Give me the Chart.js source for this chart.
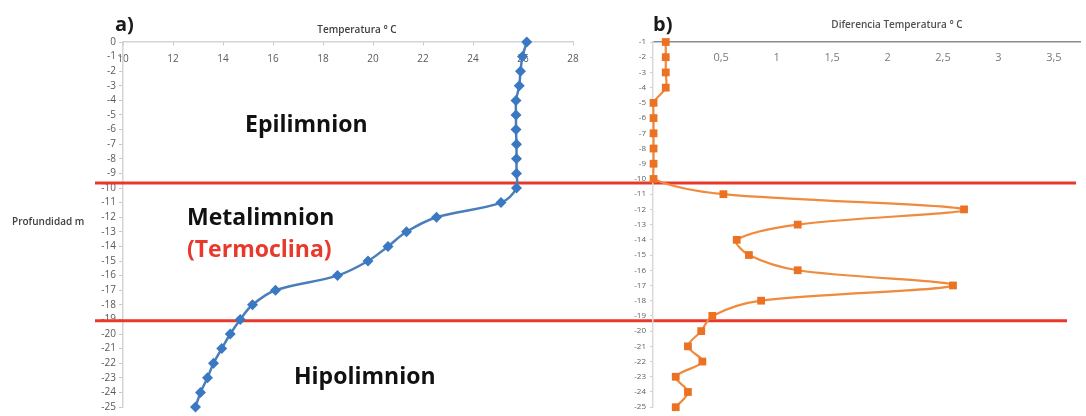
<!DOCTYPE html>
<html>
<head>
<meta charset="utf-8">
<script src="https://cdn.jsdelivr.net/npm/chart.js@4.4.0/dist/chart.umd.min.js"></script>
<style>
  html, body { margin: 0; padding: 0; background: #fff; }
  #wrap { position: relative; width: 1086px; height: 416px; overflow: hidden; }
  #wrap canvas { position: absolute; top: 0; }
  #left { left: 0; }
  #right { left: 600px; }
</style>
</head>
<body>
<div id="wrap">
  <canvas id="left" width="1086" height="416"></canvas>
  <canvas id="right" width="486" height="416"></canvas>
</div>
<script>
// panel a) temperature profile
const depths = [0, -1, -2, -3, -4, -5, -6, -7, -8, -9, -10, -11, -12, -13, -14, -15, -16, -17, -18, -19, -20, -21, -22, -23, -24, -25];
const temperature = [26.15, 25.98, 25.9, 25.85, 25.72, 25.72, 25.72, 25.74, 25.74, 25.74, 25.74, 25.12, 22.54, 21.34, 20.6, 19.8, 18.58, 16.1, 15.18, 14.69, 14.29, 13.95, 13.62, 13.38, 13.1, 12.9];
const tempTicks = [10, 12, 14, 16, 18, 20, 22, 24, 26, 28];
const depthTicksA = depths;

// panel b) temperature difference between consecutive depths
const diffDepths = [-1, -2, -3, -4, -5, -6, -7, -8, -9, -10, -11, -12, -13, -14, -15, -16, -17, -18, -19, -20, -21, -22, -23, -24, -25];
const tempDiff = [0, 0, 0, 0, -0.11, -0.11, -0.11, -0.11, -0.11, -0.11, 0.52, 2.69, 1.19, 0.64, 0.75, 1.19, 2.59, 0.86, 0.42, 0.32, 0.2, 0.33, 0.09, 0.2, 0.09];
const diffTicks = [0, 0.5, 1, 1.5, 2, 2.5, 3, 3.5];
const depthTicksB = diffDepths;

// layer limits (depth, m) and names
const layerLimits = [-9.65, -19.1];
const layerNames = ["Epilimnion", "Metalimnion", "(Termoclina)", "Hipolimnion"];

const FONT = "'Open Sans', 'DejaVu Sans', sans-serif";
const fmtComma = (v) => String(v).replace(".", ",");

function textAt(ctx, txt, x, y, font, color, align) {
  ctx.font = font;
  ctx.fillStyle = color;
  ctx.textAlign = align || "left";
  ctx.textBaseline = "middle";
  ctx.fillText(txt, x, y);
}

const leftDecor = {
  id: "leftDecor",
  beforeDatasetsDraw(chart) {
    const { ctx, scales: { y } } = chart;
    const ends = [1076, 1067];
    ctx.save();
    ctx.strokeStyle = "#e8382c";
    ctx.lineWidth = 3;
    layerLimits.forEach((d, i) => {
      const py = y.getPixelForValue(d);
      ctx.beginPath();
      ctx.moveTo(95, py);
      ctx.lineTo(ends[i], py);
      ctx.stroke();
    });
    ctx.restore();
  },
  afterDraw(chart) {
    const { ctx } = chart;
    ctx.save();
    textAt(ctx, "a)", 115, 25, "bold 20px " + FONT, "#1a1a1a");
    textAt(ctx, "Temperatura ° C", 357, 30, "600 10px " + FONT, "#404040", "center");
    textAt(ctx, "Profundidad m", 12, 222, "600 10px " + FONT, "#404040");
    const big = "bold 23px " + FONT;
    textAt(ctx, layerNames[0], 245, 125, big, "#111");
    textAt(ctx, layerNames[1], 187, 218, big, "#111");
    textAt(ctx, layerNames[2], 187, 250, big, "#e8392b");
    textAt(ctx, layerNames[3], 294, 377, big, "#111");
    ctx.restore();
  }
};

const rightDecor = {
  id: "rightDecor",
  afterDraw(chart) {
    const { ctx } = chart;
    ctx.save();
    textAt(ctx, "b)", 53, 25, "bold 20px " + FONT, "#1a1a1a");
    textAt(ctx, "Diferencia Temperatura ° C", 297, 25, "600 10px " + FONT, "#505050", "center");
    ctx.restore();
  }
};

new Chart(document.getElementById("left"), {
  type: "scatter",
  data: {
    datasets: [{
      data: depths.map((d, i) => ({ x: temperature[i], y: d })),
      showLine: true,
      borderColor: "#4a7ebb",
      backgroundColor: "#3b78c2",
      borderWidth: 2.5,
      tension: 0.33,
      pointStyle: "rectRot",
      pointRadius: 5.5,
      pointBorderWidth: 0,
      clip: false
    }]
  },
  options: {
    responsive: false,
    animation: false,
    devicePixelRatio: 1,
    layout: { padding: { top: 42, bottom: 4, left: 0, right: 513 } },
    plugins: { legend: { display: false }, tooltip: { enabled: false } },
    scales: {
      x: {
        type: "linear",
        position: { y: 0 },
        min: 10,
        max: 28,
        afterFit: (s) => { s.height = 0; },
        afterBuildTicks: (s) => { s.ticks = tempTicks.map((v) => ({ value: v })); },
        grid: { drawOnChartArea: false, color: "#c8c8c8", tickLength: 3 },
        border: { color: "#d4d4d4", width: 1.5 },
        ticks: { padding: 8, maxRotation: 0, autoSkip: false, color: "#595959", font: { family: FONT, size: 10 } }
      },
      y: {
        type: "linear",
        min: -25,
        max: 0,
        afterFit: (s) => { s.width = 123; },
        afterBuildTicks: (s) => { s.ticks = depthTicksA.map((v) => ({ value: v })); },
        grid: { drawOnChartArea: false, color: "#c8c8c8", tickLength: 4 },
        border: { color: "#d4d4d4", width: 1.5 },
        ticks: { padding: 3, autoSkip: false, color: "#595959", font: { family: FONT, size: 10 } }
      }
    }
  },
  plugins: [leftDecor]
});

new Chart(document.getElementById("right"), {
  type: "scatter",
  data: {
    datasets: [{
      data: diffDepths.map((d, i) => ({ x: tempDiff[i], y: d })),
      showLine: true,
      borderColor: "#f08a3c",
      backgroundColor: "#eb7222",
      borderWidth: 2.2,
      tension: 0.33,
      pointStyle: "rect",
      pointRadius: 5.5,
      pointBorderWidth: 0,
      clip: false
    }]
  },
  options: {
    responsive: false,
    animation: false,
    devicePixelRatio: 1,
    layout: { padding: { top: 42, bottom: 4, left: 0, right: 0 } },
    plugins: { legend: { display: false }, tooltip: { enabled: false } },
    scales: {
      x: {
        type: "linear",
        position: { y: -1 },
        min: -0.115,
        max: 3.74,
        afterFit: (s) => { s.height = 0; },
        afterBuildTicks: (s) => { s.ticks = diffTicks.map((v) => ({ value: v })); },
        grid: { drawOnChartArea: false, display: true, drawTicks: false },
        border: { color: "#8c8c8c", width: 1.5 },
        ticks: { padding: 9, maxRotation: 0, autoSkip: false, color: "#7a7a7a", font: { family: FONT, size: 11 }, callback: (v) => fmtComma(v) }
      },
      y: {
        type: "linear",
        min: -25,
        max: -1,
        afterFit: (s) => { s.width = 53; },
        afterBuildTicks: (s) => { s.ticks = depthTicksB.map((v) => ({ value: v })); },
        grid: { drawOnChartArea: false, color: "#d0d0d0", tickLength: 3 },
        border: { color: "#d9d9d9", width: 1.5 },
        ticks: { padding: 4, autoSkip: false, color: "#606060", font: { family: FONT, size: 8 } }
      }
    }
  },
  plugins: [rightDecor]
});
</script>
</body>
</html>
